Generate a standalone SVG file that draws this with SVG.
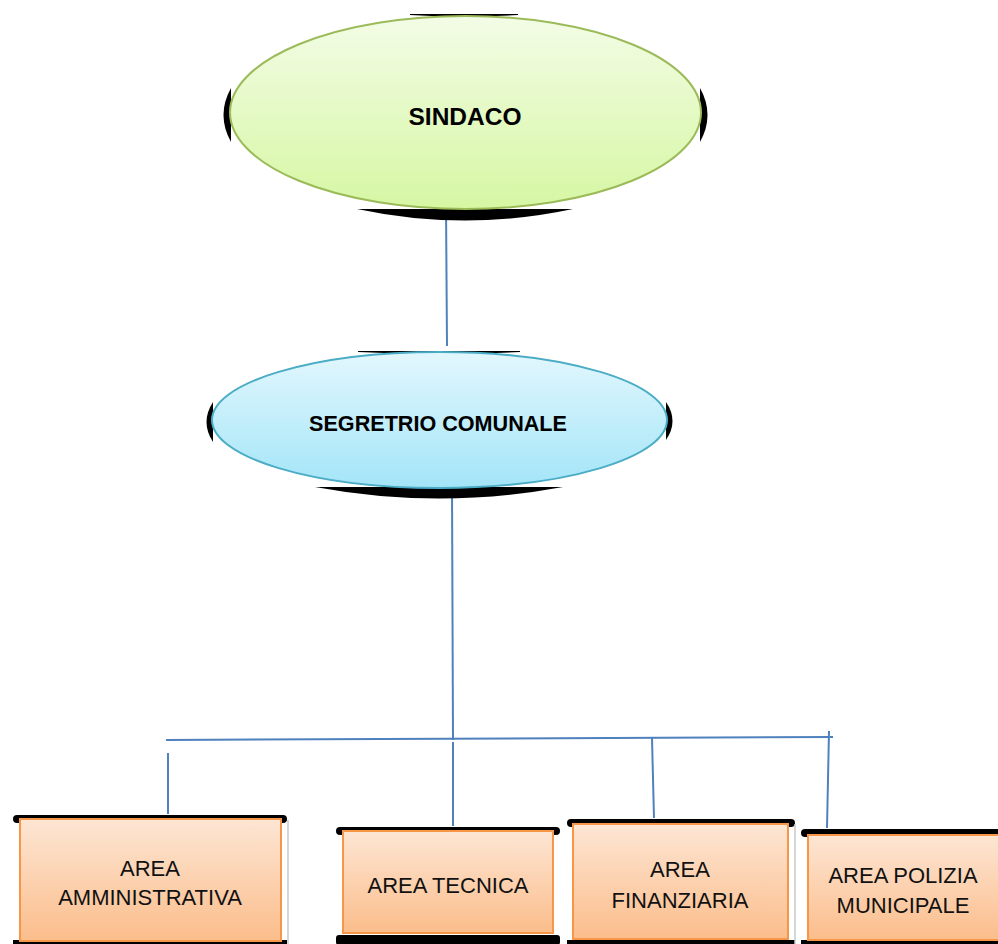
<svg xmlns="http://www.w3.org/2000/svg" width="998" height="944" viewBox="0 0 998 944">
<defs>
<linearGradient id="gGreen" x1="0" y1="0" x2="0" y2="1"><stop offset="0" stop-color="#f3fce6"/><stop offset="1" stop-color="#d6f7a3"/></linearGradient>
<linearGradient id="gBlue" x1="0" y1="0" x2="0" y2="1"><stop offset="0" stop-color="#e2f7fd"/><stop offset="1" stop-color="#a3e5f8"/></linearGradient>
<linearGradient id="gOrange" x1="0" y1="0" x2="0" y2="1"><stop offset="0" stop-color="#fde6d4"/><stop offset="1" stop-color="#fbbd8b"/></linearGradient>
<style>
.sh{fill:#000}
.gl{stroke:#c8c8c8;stroke-width:1.5}
.box{fill:url(#gOrange);stroke:#f79646;stroke-width:2}
.lbl{font-family:"Liberation Sans",Arial,sans-serif;font-size:22px;fill:#111;text-anchor:middle}
.bold{font-family:"Liberation Sans",Arial,sans-serif;font-weight:bold;fill:#000;text-anchor:middle}
.con{stroke:#4f81bd;stroke-width:2;fill:none}
</style>
</defs>
<rect width="998" height="944" fill="#fff"/>
<g id="connectors">
<line class="con" x1="446" y1="205" x2="447" y2="346"/>
<line class="con" x1="452" y1="488" x2="453" y2="740"/>
<line class="con" x1="166" y1="740" x2="833" y2="737"/>
<line class="con" x1="168" y1="753" x2="168" y2="814"/>
<line class="con" x1="453" y1="742" x2="453" y2="826"/>
<line class="con" x1="652" y1="738" x2="654" y2="818"/>
<line class="con" x1="829" y1="731" x2="827" y2="828"/>
</g>
<g id="sindaco">
<path class="sh" d="M410,14 L518,14 L518,15 Q464,18 410,15 Z"/>
<path class="sh" d="M357,209 L573,209 Q465,232 357,209 Z"/>
<path class="sh" d="M231,88 Q216,115 231,142 Z"/>
<path class="sh" d="M700,88 Q715,115 700,142 Z"/>
<ellipse cx="465.5" cy="112.5" rx="235.5" ry="96.5" fill="url(#gGreen)" stroke="#9bbb59" stroke-width="2"/>
<text class="bold" x="465" y="125" font-size="24.5">SINDACO</text>
</g>
<g id="segretario">
<path class="sh" d="M358,351 L520,351 L520,352 Q439,356 358,352 Z"/>
<path class="sh" d="M315,487 L563,487 Q439,510 315,487 Z"/>
<path class="sh" d="M213,402 Q200,422 213,442 Z"/>
<path class="sh" d="M666,402 Q679,421 666,440 Z"/>
<ellipse cx="439.5" cy="420" rx="227.5" ry="68" fill="url(#gBlue)" stroke="#4bacc6" stroke-width="2"/>
<text class="bold" x="438" y="431" font-size="21.6">SEGRETRIO COMUNALE</text>
</g>
<g id="area-amministrativa">
<rect class="sh" x="13" y="815" width="274" height="8" rx="4"/>
<rect class="sh" x="13" y="940" width="274" height="6"/>
<line class="gl" x1="288" y1="820" x2="288" y2="944"/>
<rect class="box" x="20" y="819" width="261" height="122"/>
<text class="lbl" x="150" y="876">AREA</text>
<text class="lbl" x="150" y="905">AMMINISTRATIVA</text>
</g>
<g id="area-tecnica">
<rect class="sh" x="336" y="827" width="224" height="8" rx="4"/>
<rect class="sh" x="336" y="935" width="224" height="10" rx="3"/>
<rect class="box" x="343" y="831" width="210" height="102"/>
<text class="lbl" x="448" y="893">AREA TECNICA</text>
</g>
<g id="area-finanziaria">
<rect class="sh" x="567" y="819" width="228" height="8" rx="4"/>
<rect class="sh" x="567" y="940" width="228" height="6"/>
<line class="gl" x1="795" y1="824" x2="795" y2="944"/>
<rect class="box" x="573" y="824" width="215" height="115"/>
<text class="lbl" x="680" y="877">AREA</text>
<text class="lbl" x="680" y="908">FINANZIARIA</text>
</g>
<g id="area-polizia">
<rect class="sh" x="801" y="829" width="204" height="8" rx="4"/>
<rect class="sh" x="801" y="940" width="204" height="6"/>
<rect class="box" x="808" y="835" width="200" height="105"/>
<text class="lbl" x="903" y="883">AREA POLIZIA</text>
<text class="lbl" x="903" y="913">MUNICIPALE</text>
</g>
</svg>
